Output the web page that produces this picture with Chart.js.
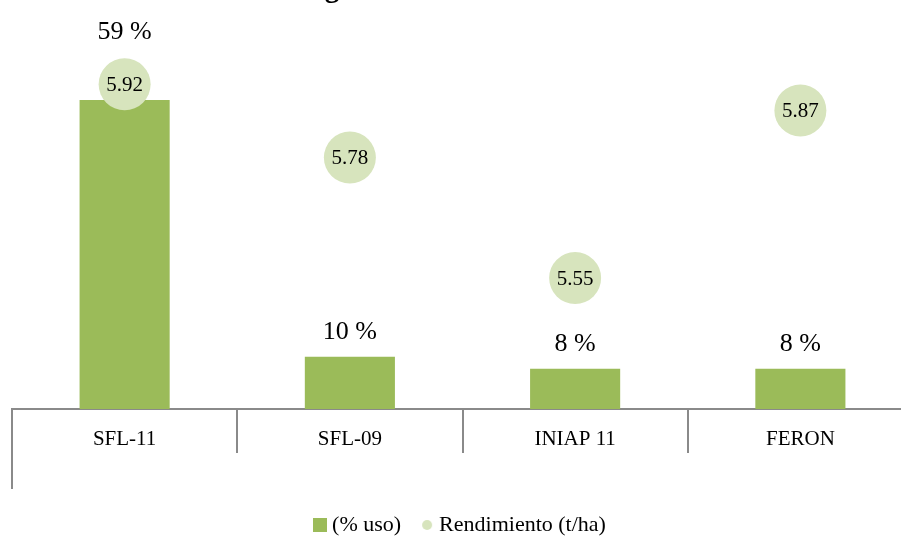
<!DOCTYPE html>
<html>
<head>
<meta charset="utf-8">
<script src="https://cdn.jsdelivr.net/npm/chart.js@4.4.1/dist/chart.umd.min.js"></script>
<style>
html,body{margin:0;padding:0;overflow:hidden;background:#ffffff;width:901px;height:536px;}
#wrap{position:absolute;left:0;top:-30px;width:934px;height:576px;}
</style>
</head>
<body>
<div id="wrap"><canvas id="c" width="934" height="576"></canvas></div>
<script>
// ---- data ----
const categories = ['SFL-11', 'SFL-09', 'INIAP 11', 'FERON'];
const usoPct = [59, 10, 7.7, 7.7];
const rendimiento = [5.92, 5.78, 5.55, 5.87];
const seriesNames = ['(% uso)', 'Rendimiento (t/ha)'];
const titleText = 'Figura 6. Semilla utilizada';

// ---- style ----
const BAR_COLOR = '#9bbb59';
const DOT_COLOR = '#d7e4bd';
const AXIS_COLOR = '#8a8a8a';
const SERIF = "'Liberation Serif', 'DejaVu Serif', serif";

function makeSquare() {
  const c = document.createElement('canvas');
  c.width = 14; c.height = 14;
  const x = c.getContext('2d');
  x.fillStyle = BAR_COLOR; x.fillRect(0, 0, 14, 14);
  return c;
}
function makeDot() {
  const c = document.createElement('canvas');
  c.width = 12; c.height = 12;
  const x = c.getContext('2d');
  x.fillStyle = DOT_COLOR; x.beginPath(); x.arc(6, 6, 5, 0, Math.PI * 2); x.fill();
  return c;
}
const legendIcons = [makeSquare(), makeDot()];

const valueLabels = {
  id: 'valueLabels',
  afterDatasetsDraw(chart) {
    const ctx = chart.ctx;
    const barMeta = chart.getDatasetMeta(0);
    const dotMeta = chart.getDatasetMeta(1);
    ctx.save();
    ctx.fillStyle = '#000';
    ctx.textAlign = 'center';
    ctx.textBaseline = 'middle';
    ctx.font = '21px ' + SERIF;
    dotMeta.data.forEach((el, i) => {
      ctx.fillText(chart.data.datasets[1].data[i].toFixed(2), el.x, el.y + 1);
    });
    ctx.font = '26px ' + SERIF;
    barMeta.data.forEach((el, i) => {
      const dot = dotMeta.data[i];
      const r = dot.options.radius;
      let y = el.y - 24;
      if (y + 13 > dot.y - r && y - 13 < dot.y + r) y = dot.y - r - 26;
      ctx.fillText(Math.round(chart.data.datasets[0].data[i]) + ' %', el.x, y);
    });
    ctx.restore();
  }
};

const axisExtension = {
  id: 'axisExtension',
  afterDraw(chart) {
    const s = chart.scales.x;
    const ctx = chart.ctx;
    ctx.save();
    ctx.strokeStyle = AXIS_COLOR;
    ctx.lineWidth = 2;
    ctx.beginPath();
    ctx.moveTo(s.left, s.top);
    ctx.lineTo(s.left, s.bottom);
    ctx.stroke();
    ctx.restore();
  }
};

new Chart(document.getElementById('c'), {
  data: {
    labels: categories,
    datasets: [
      {
        type: 'bar',
        label: seriesNames[0],
        data: usoPct,
        backgroundColor: BAR_COLOR,
        borderWidth: 0,
        barPercentage: 0.4,
        categoryPercentage: 1.0,
        yAxisID: 'y',
        order: 2
      },
      {
        type: 'line',
        label: seriesNames[1],
        data: rendimiento,
        showLine: false,
        pointRadius: 26,
        pointHoverRadius: 26,
        pointBackgroundColor: DOT_COLOR,
        pointBorderWidth: 0,
        borderColor: DOT_COLOR,
        backgroundColor: DOT_COLOR,
        yAxisID: 'y2',
        clip: false,
        order: 1
      }
    ]
  },
  options: {
    responsive: false,
    animation: false,
    devicePixelRatio: 1,
    layout: { autoPadding: false, padding: { left: 12, right: 21, top: 0, bottom: 0 } },
    scales: {
      x: {
        offset: true,
        grid: {
          offset: true,
          drawOnChartArea: false,
          drawTicks: true,
          tickLength: 44,
          color: AXIS_COLOR,
          lineWidth: 2
        },
        border: { display: true, color: AXIS_COLOR, width: 2 },
        ticks: {
          color: '#000',
          font: { family: SERIF, size: 21 },
          padding: -26,
          maxRotation: 0
        },
        afterFit(scale) { scale.height = 80; }
      },
      y: { display: false, min: 0, max: 80 },
      y2: { display: false, min: 5.3, max: 6.1 }
    },
    plugins: {
      title: {
        display: true,
        text: titleText,
        color: '#000',
        font: { family: SERIF, size: 29, weight: 'bold', lineHeight: 1.2 },
        padding: { top: 2.3, bottom: -17.1 }
      },
      legend: {
        position: 'bottom',
        labels: {
          usePointStyle: true,
          boxWidth: 2,
          boxHeight: 14,
          padding: 25,
          color: '#000',
          font: { family: SERIF, size: 22 },
          generateLabels(chart) {
            const items = Chart.defaults.plugins.legend.labels.generateLabels(chart);
            items.sort((a, b) => a.datasetIndex - b.datasetIndex);
            items.forEach(it => { it.pointStyle = legendIcons[it.datasetIndex]; });
            return items;
          }
        }
      },
      tooltip: { enabled: false }
    }
  },
  plugins: [valueLabels, axisExtension]
});
</script>
</body>
</html>
